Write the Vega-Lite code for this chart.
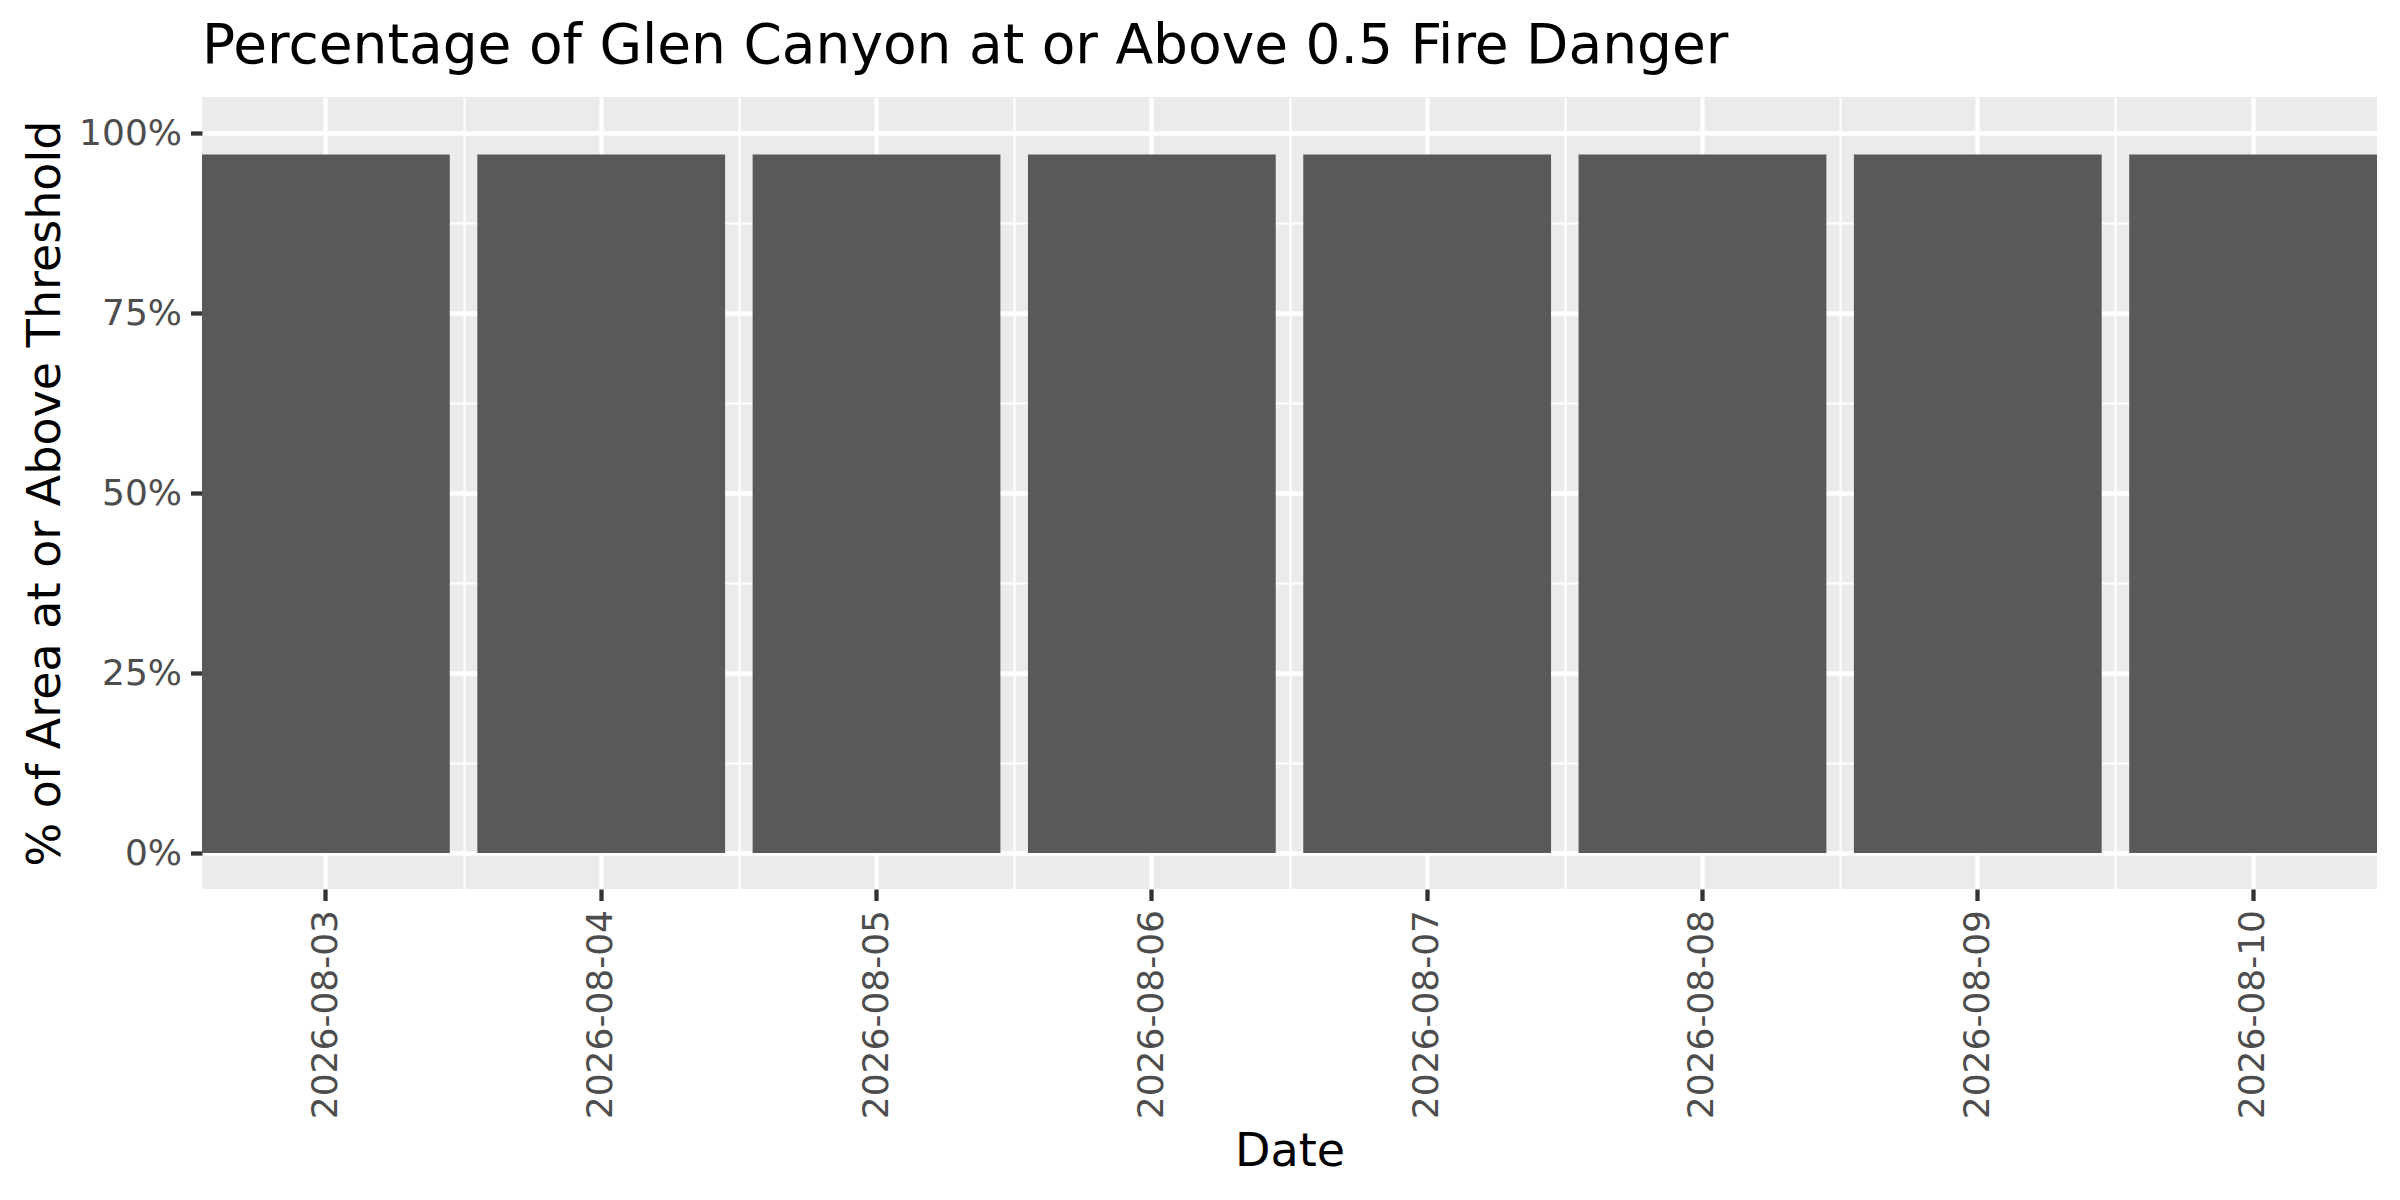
{
  "$schema": "https://vega.github.io/schema/vega-lite/v6.json",
  "autosize": {"type": "none"},
  "padding": {"left": 202, "top": 97, "right": 23, "bottom": 311},
  "width": 2175,
  "height": 792,
  "background": "white",
  "config": {
    "view": {"fill": "#EBEBEB", "stroke": null},
    "font": "DejaVu Sans",
    "axis": {
      "domain": false,
      "grid": true,
      "labelFont": "DejaVu Sans",
      "labelFontSize": 36,
      "labelColor": "#4D4D4D",
      "labelPadding": 9,
      "labelLimit": 0,
      "tickColor": "#333333",
      "tickWidth": 4.3,
      "tickSize": 11.5,
      "gridColor": "#FFFFFF",
      "gridWidth": 4.3,
      "gridOpacity": 1,
      "titleFont": "DejaVu Sans",
      "titleFontSize": 46,
      "titleFontWeight": "normal",
      "titleColor": "#000000"
    },
    "title": {
      "font": "DejaVu Sans",
      "fontSize": 55,
      "fontWeight": "normal",
      "color": "#000000",
      "anchor": "start",
      "frame": "group"
    }
  },
  "title": {"text": "Percentage of Glen Canyon at or Above 0.5 Fire Danger", "baseline": "alphabetic", "offset": -21},
  "data": {
    "values": [
      {"date": "2026-08-03", "pct": 0.97},
      {"date": "2026-08-04", "pct": 0.97},
      {"date": "2026-08-05", "pct": 0.97},
      {"date": "2026-08-06", "pct": 0.97},
      {"date": "2026-08-07", "pct": 0.97},
      {"date": "2026-08-08", "pct": 0.97},
      {"date": "2026-08-09", "pct": 0.97},
      {"date": "2026-08-10", "pct": 0.97}
    ]
  },
  "layer": [
    {
      "mark": {"type": "bar", "fillOpacity": 0},
      "encoding": {
        "x": {
          "field": "date", "type": "ordinal",
          "scale": {"paddingInner": 0.1, "paddingOuter": 0},
          "axis": {
            "orient": "top", "title": null, "labels": false, "ticks": false, "grid": true,
            "gridWidth": 2.2, "tickOffset": 137.7,
            "values": ["2026-08-03", "2026-08-04", "2026-08-05", "2026-08-06", "2026-08-07", "2026-08-08", "2026-08-09"]
          }
        },
        "y": {
          "field": "pct", "type": "quantitative",
          "scale": {"domain": [-0.05, 1.05], "nice": false, "zero": false},
          "axis": {
            "orient": "right", "title": null, "labels": false, "ticks": false, "grid": true,
            "gridWidth": 2.2, "values": [0.125, 0.375, 0.625, 0.875]
          }
        }
      }
    },
    {
      "mark": {"type": "bar", "color": "#595959"},
      "encoding": {
        "x": {
          "field": "date", "type": "ordinal",
          "axis": {"orient": "bottom", "title": "Date", "labelAngle": 270, "titlePadding": 40, "grid": true}
        },
        "y": {
          "field": "pct", "type": "quantitative",
          "axis": {
            "orient": "left", "title": "% of Area at or Above Threshold", "grid": true,
            "format": ".0%", "values": [0, 0.25, 0.5, 0.75, 1], "titlePadding": 9
          }
        }
      }
    }
  ],
  "resolve": {"axis": {"x": "independent", "y": "independent"}}
}
